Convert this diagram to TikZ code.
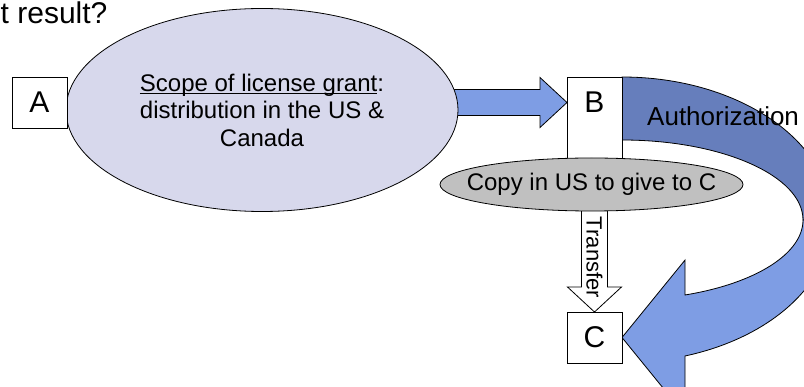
\documentclass[tikz,border=0pt]{standalone}
\usepackage{fontspec}
\setmainfont{Liberation Sans}
\usetikzlibrary{shapes.geometric,calc,backgrounds}
\definecolor{scopefill}{RGB}{215,216,236}
\definecolor{copyfill}{RGB}{192,192,192}
\definecolor{lightarrow}{RGB}{126,157,228}
\definecolor{darkarrow}{RGB}{102,126,188}
\tikzset{letterbox/.style={draw=black, fill=white, line width=0.8pt, minimum width=55pt, minimum height=51pt, inner sep=0pt, outer sep=0pt, font=\fontsize{30}{32}\selectfont},
	oval/.style={ellipse, draw=black, line width=0.8pt, inner sep=0pt, outer sep=0pt, align=center, font=\fontsize{24}{27.5}\selectfont},
	blockarrow/.style={draw=black, fill=lightarrow, line width=0.8pt, line join=miter}}
\newlength\grantwd
\newcommand\underscope[1]{\settowidth\grantwd{#1}\rlap{\rule[-3pt]{\grantwd}{1.3pt}}#1}

\begin{document}
\begin{tikzpicture}[x=1pt,y=-1pt]
	\useasboundingbox (0,0) rectangle (804,387);
	\node[anchor=base west, inner sep=0pt, font=\fontsize{30}{33}\selectfont] (title) at (0.5,24) {t result?}; %cut off title
	\node[oval, fill=scopefill, minimum width=392pt, minimum height=203pt] (scope) at (262,110) {\underscope{Scope of license grant}:\\distribution in the US \&\\Canada};
	\node[letterbox] (A) at (39.5,102.5) {A};
	\node[letterbox, anchor=north, text height=36pt, text depth=64pt] (B) at (594.5,77) {B}; %tall box, letter at the top
	\node[oval, fill=copyfill, inner xsep=-20pt, minimum width=303pt, minimum height=53pt] (copy) at (591.5,184.5) {Copy in US to give to C};
	\node[letterbox] (C) at (594.5,337.5) {C};
	\node[rotate=-90, inner sep=0pt, font=\fontsize{22}{24}\selectfont] (transfer) at (594.5,257.5) {Transfer};
	\node[anchor=base west, inner sep=0pt, font=\fontsize{26}{28}\selectfont] (auth) at (647,126) {Authorization};
	\begin{pgfonlayer}{background}
		\clip (0,0) rectangle (804,387);
		\coordinate (tip) at (B.west |- A.east);
		\draw[blockarrow] (tip) -- ++(-27,-25) -- ++(0,12) -- ++(-90,0) -- ++(0,26) -- ++(90,0) -- ++(0,12) -- cycle; %scope to B
		\draw[blockarrow, fill=white] (C.north) -- ++(-27,-25) -- ++(14,0) -- ++(0,-90) -- ++(26,0) -- ++(0,90) -- ++(14,0) -- cycle; %copy to C
		\draw[blockarrow, fill=darkarrow] (B.north east) arc[start angle=-90, end angle=0, x radius=210, y radius=143] -- ++(-29,0) arc[start angle=0, end angle=-90, x radius=181, y radius=80] -- cycle; %upper band
		\draw[blockarrow] ($(B.north east)+(181,143)$) arc[start angle=0, end angle=69.6, x radius=181, y radius=80] -- ++(0,-35) -- (C.east) -- ++(63,77.5) -- ++(0,-59) arc[start angle=72.5, end angle=0, x radius=210, y radius=143] -- cycle; %lower band with head
	\end{pgfonlayer}
\end{tikzpicture}
\end{document}
